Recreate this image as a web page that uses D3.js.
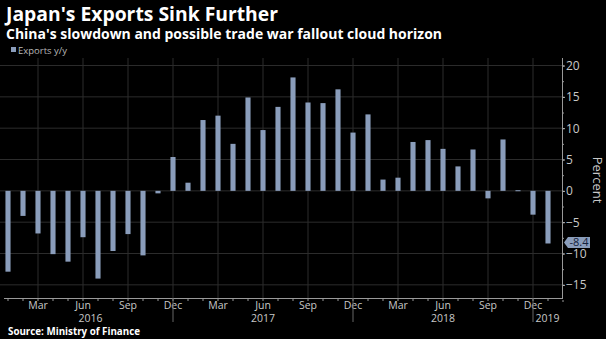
<!DOCTYPE html>
<html>
<head>
<meta charset="utf-8">
<script src="https://cdn.jsdelivr.net/npm/d3@7"></script>
<style>
  html, body { margin: 0; padding: 0; background: #000; }
  svg { display: block; }
  text { font-family: "Open Sans", "Liberation Sans", sans-serif; }
</style>
</head>
<body>
<script>
// monthly exports y/y, Jan 2016 .. Jan 2019
const months = [
  "2016-01","2016-02","2016-03","2016-04","2016-05","2016-06","2016-07","2016-08","2016-09","2016-10","2016-11","2016-12",
  "2017-01","2017-02","2017-03","2017-04","2017-05","2017-06","2017-07","2017-08","2017-09","2017-10","2017-11","2017-12",
  "2018-01","2018-02","2018-03","2018-04","2018-05","2018-06","2018-07","2018-08","2018-09","2018-10","2018-11","2018-12",
  "2019-01"
];
const exportsYoY = [
  -12.9, -4.0, -6.8, -10.1, -11.3, -7.4, -14.0, -9.6, -6.9, -10.3, -0.4, 5.4,
  1.3, 11.3, 12.0, 7.5, 14.9, 9.7, 13.4, 18.1, 14.1, 14.0, 16.2, 9.3,
  12.2, 1.8, 2.1, 7.8, 8.1, 6.7, 3.9, 6.6, -1.2, 8.2, 0.1, -3.8,
  -8.4
];
const monthLabels = ["Jan","Feb","Mar","Apr","May","Jun","Jul","Aug","Sep","Oct","Nov","Dec"];
const labelledMonths = ["03","06","09","12"];
const years = ["2016","2017","2018","2019"];
const yTicks = [-15, -10, -5, 0, 5, 10, 15, 20];

const W = 606, H = 339;
const plotTop = 58, plotBottom = 298, plotRight = 562;

const svg = d3.select("body").append("svg")
  .attr("width", W).attr("height", H);

svg.append("rect").attr("width", W).attr("height", H).attr("fill", "#000");

const x = d3.scaleBand()
  .domain(months)
  .range([0.5, 555.5])
  .paddingInner(0.66)
  .paddingOuter(0.33);
const xc = m => x(m) + x.bandwidth() / 2;

const y = d3.scaleLinear().domain([-17.1, 21.2]).range([plotBottom, plotTop]);

// titles
svg.append("text").attr("x", 6).attr("y", 21)
  .attr("fill", "#fff").attr("font-size", 20).attr("font-weight", "bold")
  .attr("textLength", 272).attr("lengthAdjust", "spacingAndGlyphs")
  .text("Japan's Exports Sink Further");
svg.append("text").attr("x", 6).attr("y", 39)
  .attr("fill", "#fff").attr("font-size", 14).attr("font-weight", "bold")
  .attr("textLength", 436).attr("lengthAdjust", "spacingAndGlyphs")
  .text("China's slowdown and possible trade war fallout cloud horizon");

// legend
svg.append("rect").attr("x", 11).attr("y", 47).attr("width", 5).attr("height", 5).attr("fill", "#8a9dbb");
svg.append("text").attr("x", 18).attr("y", 53.5)
  .attr("fill", "#b8b8b8").attr("font-size", 9.5)
  .text("Exports y/y");

// grid
const grid = svg.append("g");
grid.selectAll("line.h").data(yTicks).enter().append("line")
  .attr("x1", 0).attr("x2", plotRight)
  .attr("y1", d => y(d)).attr("y2", d => y(d))
  .attr("stroke", "#2c2c2c").attr("stroke-width", 1);
const gridMonths = months.filter(m => labelledMonths.includes(m.slice(5)));
grid.selectAll("line.v").data(gridMonths).enter().append("line")
  .attr("x1", d => xc(d)).attr("x2", d => xc(d))
  .attr("y1", plotTop).attr("y2", plotBottom)
  .attr("stroke", "#2c2c2c").attr("stroke-width", 1);

// bars
svg.append("g").selectAll("rect").data(months).enter().append("rect")
  .attr("x", d => x(d))
  .attr("width", x.bandwidth())
  .attr("y", (d, i) => y(Math.max(0, exportsYoY[i])))
  .attr("height", (d, i) => Math.max(1, Math.abs(y(exportsYoY[i]) - y(0))))
  .attr("fill", "#8a9dbb");

// bottom axis: minor ticks for every month
const minor = svg.append("g").attr("transform", `translate(0,${plotBottom})`)
  .call(d3.axisBottom(x).tickSize(3).tickFormat(""));
minor.select(".domain").remove();
minor.selectAll("line").attr("stroke", "#999");

// labelled months
const xAxis = svg.append("g").attr("transform", `translate(0,${plotBottom})`)
  .call(d3.axisBottom(x).tickValues(gridMonths).tickSize(0).tickPadding(4)
    .tickFormat(m => monthLabels[+m.slice(5) - 1]));
xAxis.select(".domain").remove();
xAxis.selectAll("text").attr("fill", "#c8c8c8").attr("font-size", 10.5)
  .attr("font-family", "'Open Sans', sans-serif");

svg.append("line").attr("x1", 4).attr("x2", plotRight)
  .attr("y1", plotBottom + 0.5).attr("y2", plotBottom + 0.5)
  .attr("stroke", "#999");

// year separators and labels
const decs = months.filter(m => m.slice(5) === "12");
svg.append("g").selectAll("line").data(decs).enter().append("line")
  .attr("x1", d => xc(d)).attr("x2", d => xc(d))
  .attr("y1", plotBottom).attr("y2", 322)
  .attr("stroke", "#666");
const bounds = [xc(months[0])].concat(decs.map(xc)).concat([plotRight]);
svg.append("g").selectAll("text").data(years).enter().append("text")
  .attr("x", (d, i) => (bounds[i] + bounds[i + 1]) / 2)
  .attr("y", 322)
  .attr("text-anchor", "middle")
  .attr("fill", "#c8c8c8").attr("font-size", 10.5)
  .text(d => d);

// right axis
const yMinor = svg.append("g").attr("transform", `translate(${plotRight},0)`)
  .call(d3.axisRight(y).tickValues(d3.range(-17.5, 21, 2.5)).tickSize(2).tickFormat(""));
yMinor.select(".domain").remove();
yMinor.selectAll("line").attr("stroke", "#999");

const yAxis = svg.append("g").attr("transform", `translate(${plotRight},0)`)
  .call(d3.axisRight(y).tickValues(yTicks).tickSize(3).tickPadding(1));
yAxis.select(".domain").remove();
yAxis.selectAll("line").attr("stroke", "#bbb");
yAxis.selectAll("text").attr("fill", "#c8c8c8").attr("font-size", 12)
  .attr("font-family", "'Open Sans', sans-serif");

svg.append("line").attr("x1", plotRight + 0.5).attr("x2", plotRight + 0.5)
  .attr("y1", plotTop).attr("y2", plotBottom + 1)
  .attr("stroke", "#999");

svg.append("text")
  .attr("transform", `translate(593,180) rotate(90)`)
  .attr("text-anchor", "middle")
  .attr("fill", "#c8c8c8").attr("font-size", 13)
  .text("Percent");

// last value tag
const last = exportsYoY[exportsYoY.length - 1];
const ly = y(last) - 1;
svg.append("path")
  .attr("d", `M${plotRight + 2},${ly} L${plotRight + 6},${ly - 5.5} L${plotRight + 28},${ly - 5.5} L${plotRight + 28},${ly + 5.5} L${plotRight + 6},${ly + 5.5} Z`)
  .attr("fill", "#8a9dbb");
svg.append("text").attr("x", plotRight + 17).attr("y", ly + 4)
  .attr("text-anchor", "middle")
  .attr("fill", "#13203a").attr("font-size", 11)
  .text(d3.format(".1f")(last).replace("−", "-"));

// source
svg.append("text").attr("x", 8).attr("y", 335)
  .attr("fill", "#fff").attr("font-size", 10).attr("font-weight", "bold")
  .attr("textLength", 132).attr("lengthAdjust", "spacingAndGlyphs")
  .text("Source: Ministry of Finance");
</script>
</body>
</html>
